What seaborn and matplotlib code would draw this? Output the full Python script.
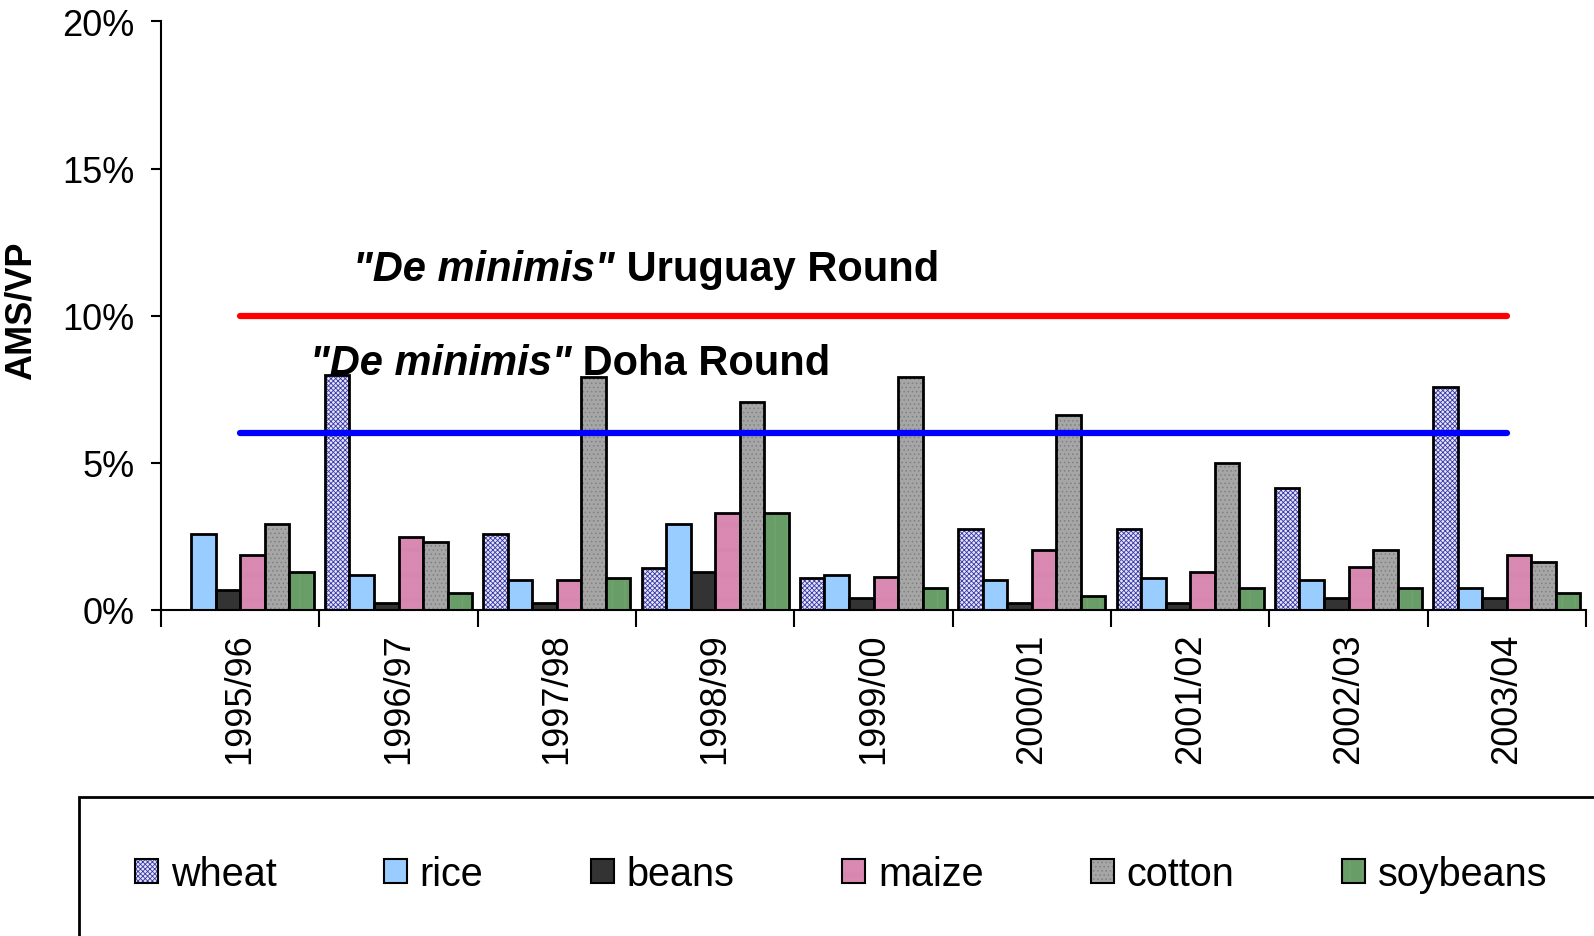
"""Bar chart of AMS/VP ratio per crop with de minimis thresholds."""
import pandas as pd
import matplotlib.pyplot as plt
from matplotlib.patches import Patch, Rectangle
from matplotlib.colors import to_rgba
import seaborn as sns

years = ['1995/96', '1996/97', '1997/98', '1998/99', '1999/00',
         '2000/01', '2001/02', '2002/03', '2003/04']
crops = ['wheat', 'rice', 'beans', 'maize', 'cotton', 'soybeans']

# AMS / value of production, in percent
wheat = [0.0, 8.0, 2.57, 1.43, 1.08, 2.74, 2.74, 4.15, 7.59]
rice = [2.57, 1.18, 1.03, 2.93, 1.18, 1.03, 1.10, 1.03, 0.75]
beans = [0.68, 0.23, 0.23, 1.28, 0.42, 0.23, 0.23, 0.42, 0.42]
maize = [1.88, 2.48, 1.03, 3.28, 1.11, 2.05, 1.29, 1.46, 1.88]
cotton = [2.93, 2.32, 7.93, 7.08, 7.93, 6.64, 5.0, 2.05, 1.63]
soybeans = [1.28, 0.57, 1.08, 3.28, 0.75, 0.49, 0.75, 0.75, 0.57]

uruguay_limit = [10.0] * len(years)
doha_limit = [6.0] * len(years)

y_ticks = [0, 5, 10, 15, 20]

# face colour, hatch pattern, hatch colour
styles = {
    'wheat': ('#e4e4ff', 'xxxxxxx', '#3a3aa0'),
    'rice': ('#99ccff', '', '#000000'),
    'beans': ('#333333', '', '#000000'),
    'maize': ('#ffc6e2', '-' * 16, '#cf7aa6'),
    'cotton': ('#a6a6a6', '....', '#808080'),
    'soybeans': ('#d2f0d2', '|' * 18, '#5e955e'),
}

df = pd.DataFrame({
    'year': years * len(crops),
    'crop': [c for c in crops for _ in years],
    'value': wheat + rice + beans + maize + cotton + soybeans,
})

sns.set_style('ticks')
plt.rcParams['font.family'] = ['Liberation Sans', 'DejaVu Sans']
plt.rcParams['hatch.linewidth'] = 0.6
for k in ['text.color', 'axes.labelcolor', 'xtick.color', 'ytick.color', 'axes.edgecolor']:
    plt.rcParams[k] = 'black'

fig = plt.figure(figsize=(15.94, 9.37), dpi=100)
ax = fig.add_axes([0.101, 0.348, 0.894, 0.628])

palette = {c: styles[c][0] for c in crops}
sns.barplot(data=df, x='year', y='value', hue='crop', hue_order=crops,
            order=years, palette=palette, saturation=1, width=0.93,
            edgecolor='black', linewidth=2, legend=False, ax=ax, zorder=2)

for cont, crop in zip(ax.containers, crops):
    face, hatch, hcol = styles[crop]
    for bar in cont:
        if hatch:
            bar.set_hatch(hatch)
            bar._hatch_color = to_rgba(hcol)

# de minimis thresholds
xs = list(range(len(years)))
ax.plot(xs, uruguay_limit, color='#ff0000', lw=4.5, solid_capstyle='round', zorder=4)
ax.plot(xs, doha_limit, color='#0000ff', lw=4.5, solid_capstyle='round', zorder=4)

t1 = ax.text(0.713, 11.59, '"De minimis"', fontsize=30, fontweight='bold',
             fontstyle='italic', va='center', ha='left', zorder=5)
ax.annotate(' Uruguay Round', xy=(1, 0), xycoords=t1, fontsize=30,
            fontweight='bold', va='bottom', ha='left')
t2 = ax.text(0.44, 8.39, '"De minimis"', fontsize=30, fontweight='bold',
             fontstyle='italic', va='center', ha='left', zorder=5)
ax.annotate(' Doha Round', xy=(1, 0), xycoords=t2, fontsize=30,
            fontweight='bold', va='bottom', ha='left')

ax.set_xlim(-0.5, len(years) - 0.5)
ax.set_ylim(0, 20)
ax.set_yticks(y_ticks)
ax.set_yticklabels([f'{t}%' for t in y_ticks])
ax.set_xticks(xs)
ax.set_xticklabels(years, rotation=90)
ax.set_xticks([i - 0.5 for i in range(len(years) + 1)], minor=True)
ax.tick_params(axis='x', which='major', length=0, pad=16, labelsize=26)
ax.tick_params(axis='x', which='minor', length=12, width=1.5, direction='out')
ax.tick_params(axis='y', length=7, width=1.5, pad=12, labelsize=26)
ax.set_xlabel('')
ax.set_ylabel('AMS/VP', fontsize=26, fontweight='bold')
ax.yaxis.set_label_coords(-0.086, 0.51)
sns.despine(ax=ax)
for s in ['left', 'bottom']:
    ax.spines[s].set_linewidth(1.5)

# legend box, cut off by the figure edge as in the original
fig.add_artist(Rectangle((79 / 1594, -0.1), 1.2, (937 - 798) / 937 + 0.1,
                         transform=fig.transFigure, fill=False,
                         lw=2, edgecolor='black'))
handles = []
for crop in crops:
    face, hatch, hcol = styles[crop]
    p = Patch(facecolor=face, edgecolor='black', hatch=hatch or None, lw=1.5, label=crop)
    if hatch:
        p._hatch_color = to_rgba(hcol)
    handles.append(p)
fig.legend(handles=handles, loc='center left', ncol=6,
           bbox_to_anchor=(135 / 1594, 1 - 875 / 937), bbox_transform=fig.transFigure,
           frameon=False, fontsize=28.5, handlelength=0.57, handleheight=0.57,
           handletextpad=0.33, columnspacing=2.72, borderpad=0, borderaxespad=0)

fig.savefig('out.png', dpi=100)
plt.close(fig)
